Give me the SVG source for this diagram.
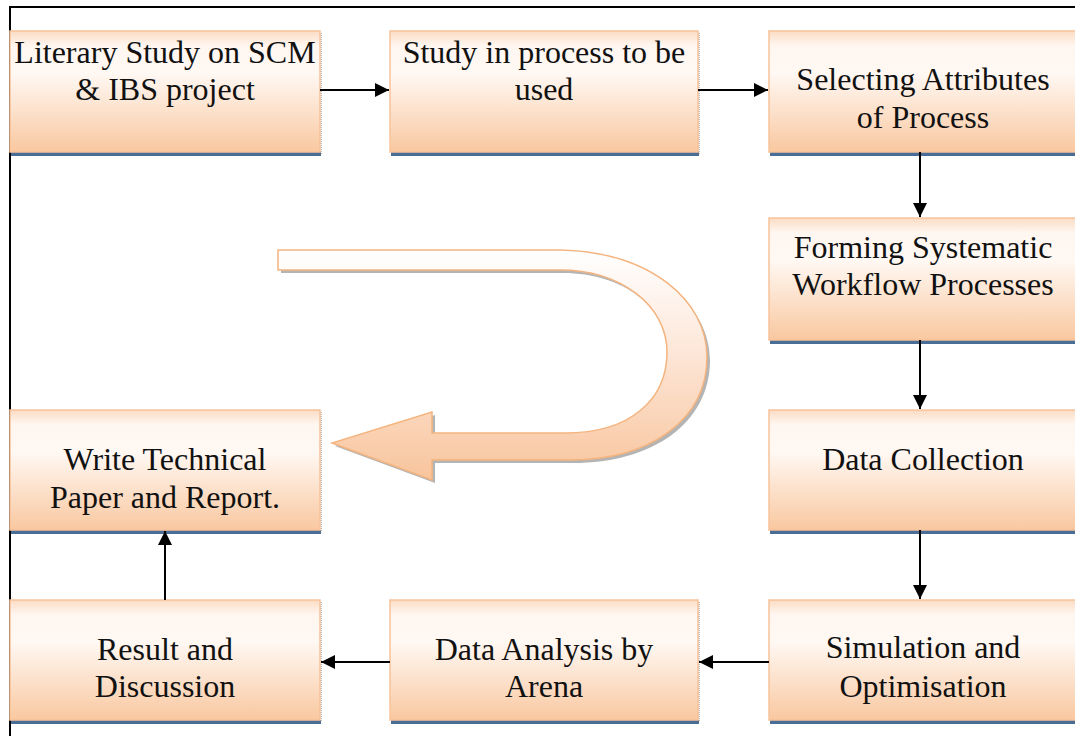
<svg xmlns="http://www.w3.org/2000/svg" width="1075" height="736" viewBox="0 0 1075 736">
<style>
.box{fill:url(#bg);stroke:#f7c29a;stroke-width:1.5}
.sh{fill:#4a6d95}
.edge{stroke:#777;stroke-width:1;stroke-dasharray:1 1}
.t{font-family:"Liberation Serif","Times New Roman",serif;font-size:32px;fill:#111;text-anchor:middle}
.c{stroke:#000;stroke-width:2;fill:none;marker-end:url(#ah)}
.frame{stroke:#000;stroke-width:2;fill:none}
</style>
<defs>
<linearGradient id="bg" x1="0" y1="0" x2="0" y2="1">
<stop offset="0" stop-color="#fbdcc4"/>
<stop offset="0.12" stop-color="#fff6f0"/>
<stop offset="0.35" stop-color="#fff8f3"/>
<stop offset="1" stop-color="#f9c8a0"/>
</linearGradient>
<linearGradient id="ag" x1="0" y1="0" x2="0" y2="1">
<stop offset="0" stop-color="#ffffff"/>
<stop offset="0.4" stop-color="#fde9dc"/>
<stop offset="1" stop-color="#f8c49c"/>
</linearGradient>
<marker id="ah" viewBox="0 0 10 10" refX="10" refY="5" markerWidth="8" markerHeight="7" markerUnits="strokeWidth" orient="auto">
<path d="M0 0 L10 5 L0 10 Z" fill="#000"/>
</marker>
</defs>
<rect width="1075" height="736" fill="#fff"/>
<path class="frame" d="M10 736 V7 H1075"/>

<g id="uturn">
<path d="M281 253 L560 253 C650 255 710 303 710 360 C710 423 653 463 573 463 L435 463 L435 483 L335 446 L435 415 L435 436 L568 436 C633 436 670 403 670 355 C670 308 623 273 563 273 L281 273 Z" fill="#777" opacity="0.55"/>
<path d="M278 250 L560 250 C650 252 707 300 707 357 C707 420 650 460 570 460 L432 460 L432 480 L332 443 L432 412 L432 433 L565 433 C630 433 667 400 667 352 C667 305 620 270 560 270 L278 270 Z" fill="url(#ag)" stroke="#f4b47f" stroke-width="1.5"/>
</g>

<g id="n1">
<rect class="sh" x="11" y="152" width="310" height="4"/>
<line class="edge" x1="321" y1="33" x2="321" y2="154"/>
<rect class="box" x="10" y="31" width="310" height="121"/>
<text class="t" x="165" y="63">Literary Study on SCM</text>
<text class="t" x="165" y="100">&amp; IBS project</text>
</g>
<g id="n2">
<rect class="sh" x="391" y="152" width="308" height="4"/>
<line class="edge" x1="699" y1="33" x2="699" y2="154"/>
<rect class="box" x="390" y="31" width="308" height="121"/>
<text class="t" x="544" y="63">Study in process to be</text>
<text class="t" x="544" y="100">used</text>
</g>
<g id="n3">
<rect class="sh" x="770" y="152" width="310" height="4"/>
<rect class="box" x="769" y="31" width="310" height="121"/>
<text class="t" x="923" y="90">Selecting Attributes</text>
<text class="t" x="923" y="128">of Process</text>
</g>
<g id="n4">
<rect class="sh" x="770" y="340" width="310" height="4"/>
<rect class="box" x="769" y="218" width="310" height="122"/>
<text class="t" x="923" y="258">Forming Systematic</text>
<text class="t" x="923" y="295">Workflow Processes</text>
</g>
<g id="n5">
<rect class="sh" x="770" y="530" width="310" height="4"/>
<rect class="box" x="769" y="410" width="310" height="120"/>
<text class="t" x="923" y="470">Data Collection</text>
</g>
<g id="n6">
<rect class="sh" x="770" y="720" width="310" height="4"/>
<rect class="box" x="769" y="600" width="310" height="120"/>
<text class="t" x="923" y="658">Simulation and</text>
<text class="t" x="923" y="697">Optimisation</text>
</g>
<g id="n7">
<rect class="sh" x="391" y="720" width="308" height="4"/>
<line class="edge" x1="699" y1="602" x2="699" y2="722"/>
<rect class="box" x="390" y="600" width="308" height="120"/>
<text class="t" x="544" y="660">Data Analysis by</text>
<text class="t" x="544" y="697">Arena</text>
</g>
<g id="n8">
<rect class="sh" x="11" y="720" width="310" height="4"/>
<line class="edge" x1="321" y1="602" x2="321" y2="722"/>
<rect class="box" x="10" y="600" width="310" height="120"/>
<text class="t" x="165" y="660">Result and</text>
<text class="t" x="165" y="697">Discussion</text>
</g>
<g id="n9">
<rect class="sh" x="11" y="530" width="310" height="4"/>
<line class="edge" x1="321" y1="412" x2="321" y2="532"/>
<rect class="box" x="10" y="410" width="310" height="120"/>
<text class="t" x="165" y="470">Write Technical</text>
<text class="t" x="165" y="508">Paper and Report.</text>
</g>

<g id="connectors">
<line class="c" x1="320" y1="90" x2="389" y2="90"/>
<line class="c" x1="698" y1="90" x2="768" y2="90"/>
<line class="c" x1="920" y1="152" x2="920" y2="217"/>
<line class="c" x1="920" y1="340" x2="920" y2="409"/>
<line class="c" x1="920" y1="530" x2="920" y2="599"/>
<line class="c" x1="769" y1="662" x2="699" y2="662"/>
<line class="c" x1="390" y1="662" x2="321" y2="662"/>
<line class="c" x1="165" y1="600" x2="165" y2="531"/>
</g>
</svg>
